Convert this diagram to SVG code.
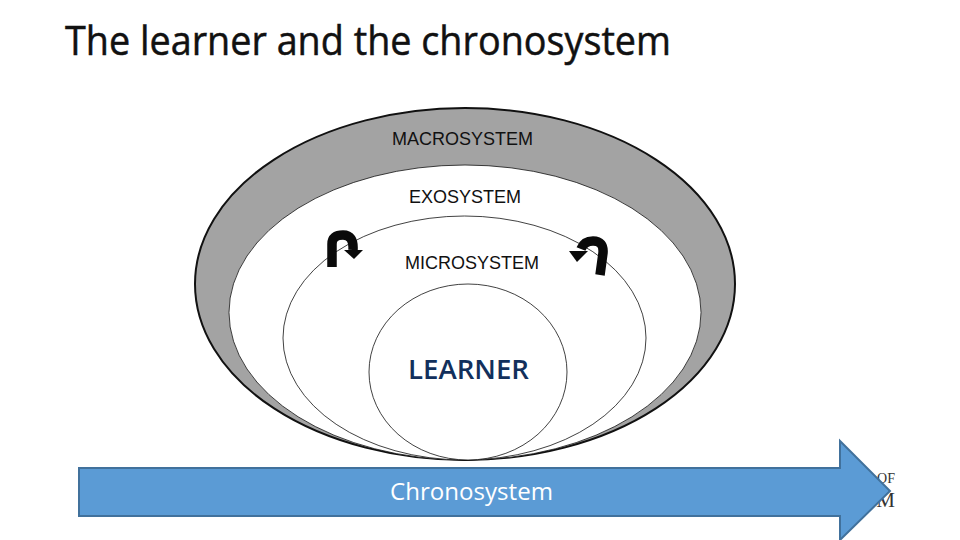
<svg xmlns="http://www.w3.org/2000/svg" width="960" height="540" viewBox="0 0 960 540">
<style>
.lbl{font-family:"Liberation Sans",Arial,sans-serif;font-size:18px;fill:#111}
.thin{fill:#fff;stroke:#111;stroke-width:.8}
.turn{fill:none;stroke:#0a0a0a;stroke-width:9.500}
.head{fill:#0a0a0a}
.bg{font-family:"Liberation Serif",serif;fill:#333;text-anchor:end}
</style>
<rect width="960" height="540" fill="#fff"/>
<text x="65" y="55" font-family="'Open Sans','Noto Sans',sans-serif" font-size="40" fill="#111" stroke="#111" stroke-width=".5" textLength="606" lengthAdjust="spacingAndGlyphs">The learner and the chronosystem</text>
<g id="macrosystem"><ellipse cx="465" cy="284" rx="270" ry="176" fill="#a3a3a3" stroke="#111" stroke-width="2"/><text class="lbl" x="392" y="145" textLength="141" lengthAdjust="spacingAndGlyphs">MACROSYSTEM</text></g>
<g id="exosystem"><ellipse cx="465" cy="312.500" rx="236" ry="147.500" class="thin"/><text class="lbl" x="409" y="203" textLength="112" lengthAdjust="spacingAndGlyphs">EXOSYSTEM</text></g>
<g id="microsystem"><ellipse cx="464.500" cy="338" rx="181.500" ry="122" class="thin"/><text class="lbl" x="405" y="269" textLength="134" lengthAdjust="spacingAndGlyphs">MICROSYSTEM</text></g>
<g id="learner"><ellipse cx="468" cy="372" rx="99" ry="88" class="thin"/><text x="408" y="379" font-family="'Open Sans','Noto Sans',sans-serif" font-size="27" font-weight="600" fill="#12305c" textLength="121" lengthAdjust="spacingAndGlyphs">LEARNER</text></g>
<g id="connectors">
<path class="turn" d="M332 267V244Q332 235 343 235Q354 235 353 250"/>
<path class="head" d="M344 250H363L354 259Z"/>
<path class="turn" d="M600 275L603 253Q604 241 593 241Q584 241 581 249"/>
<path class="head" d="M569 251L588 251L577 262Z"/>
</g>
<g id="background-fragments"><text class="bg" x="895" y="483" font-size="14">OF</text><text class="bg" x="895" y="507" font-size="21">M</text></g>
<g id="chronosystem"><path d="M79 468H840V441L890 491L840 540V516H79Z" fill="#5b9bd5" stroke="#41719c" stroke-width="2"/><text x="390" y="500" font-family="'Open Sans','Noto Sans',sans-serif" font-size="24" fill="#fff" textLength="163" lengthAdjust="spacingAndGlyphs">Chronosystem</text></g>
</svg>
